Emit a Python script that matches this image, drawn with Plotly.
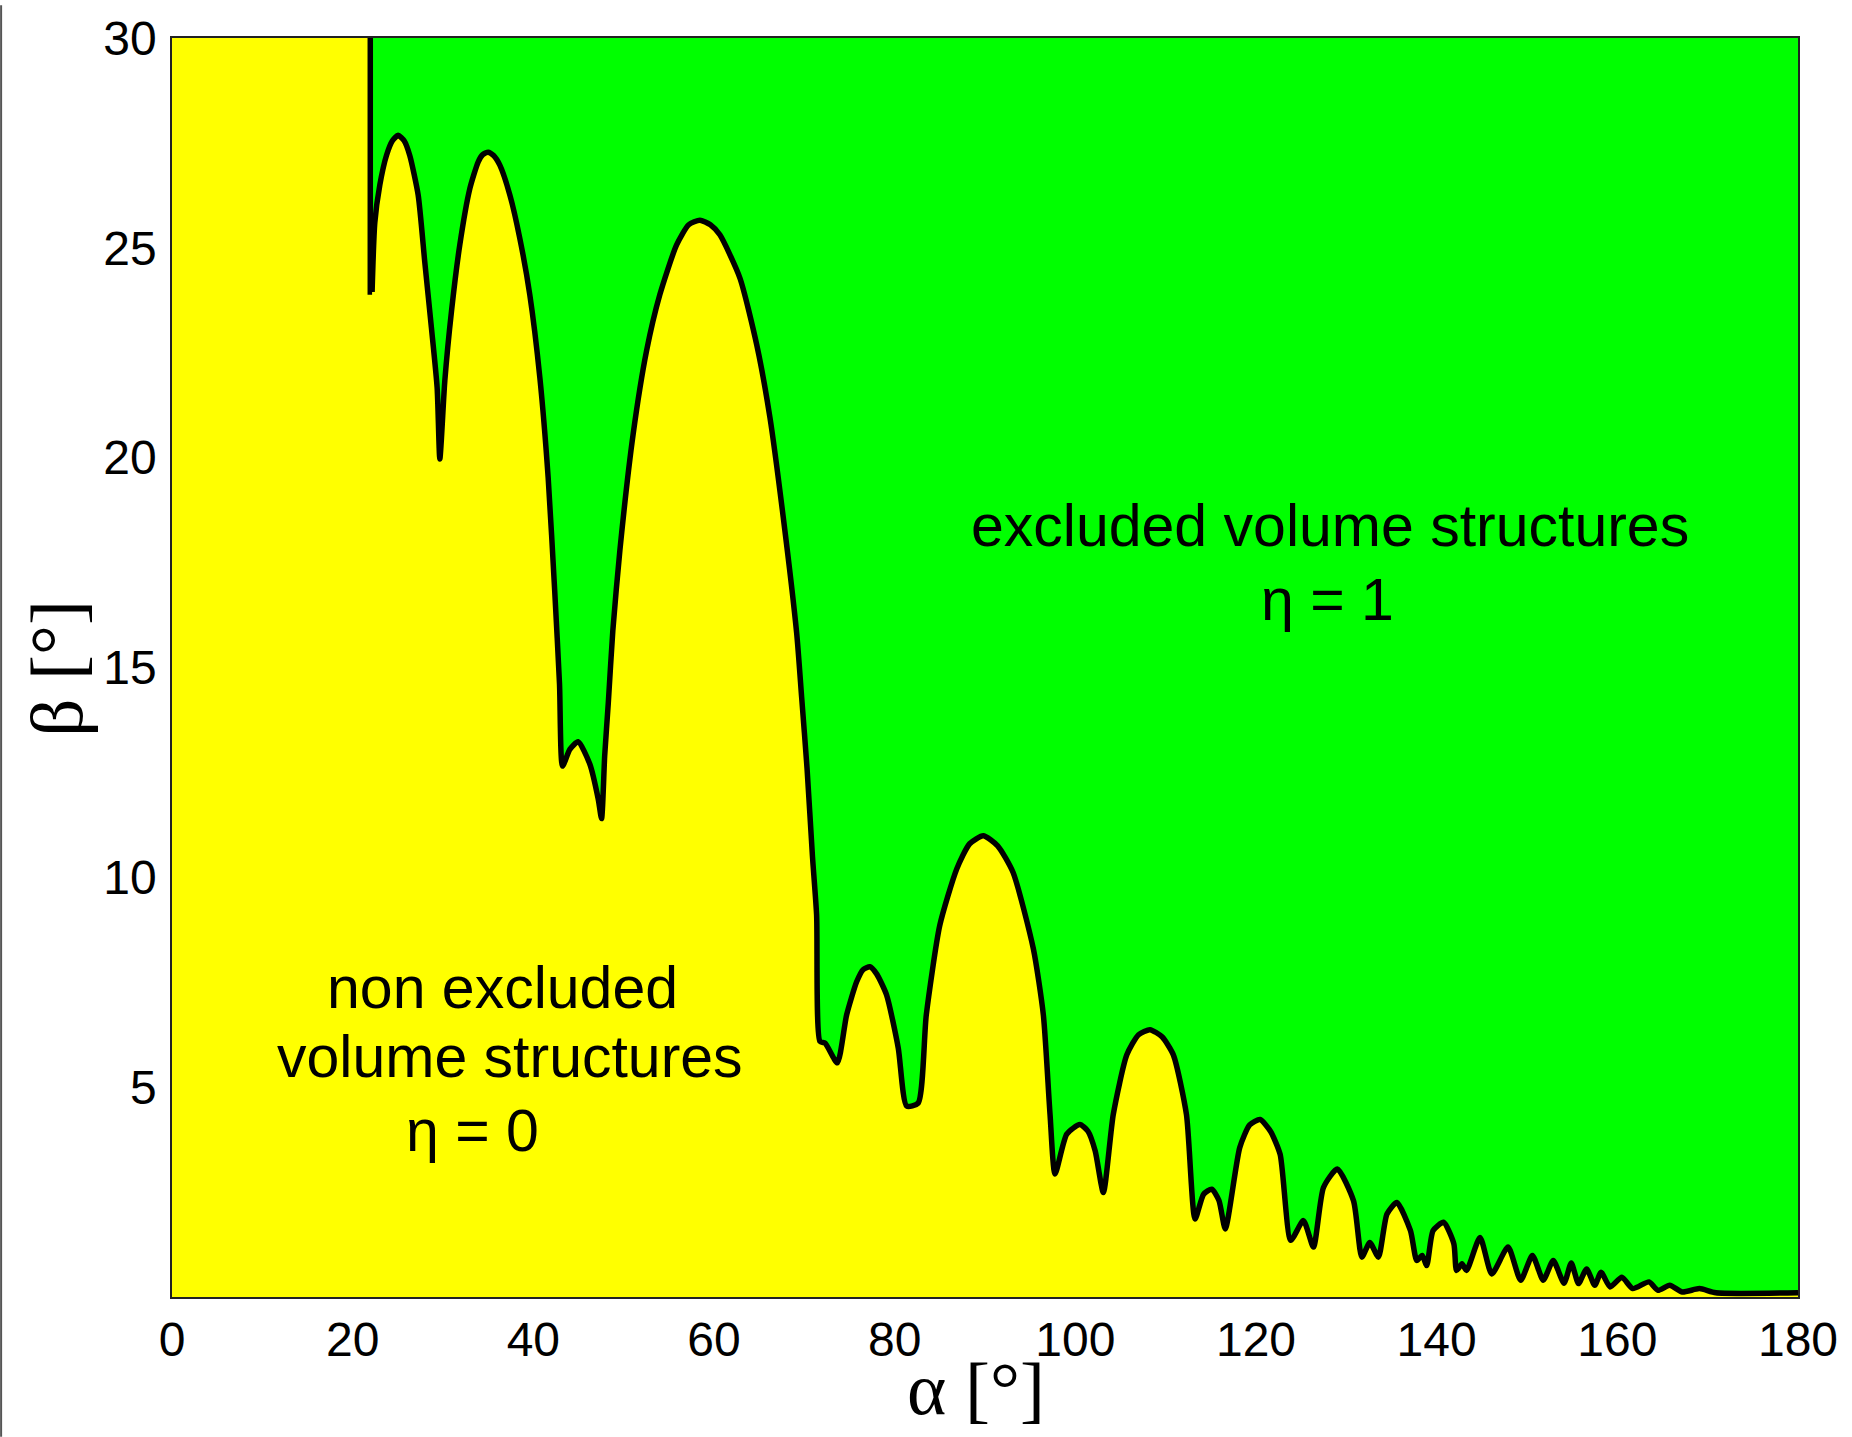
import plotly.graph_objects as go

# Phase boundary beta(alpha) separating the two structure regimes (degrees)
alpha_boundary = [
    21.95, 21.95, 22.15, 22.45, 23.0, 23.74, 24.4, 25.03, 25.7, 26.32,
    27.25, 27.98, 28.72, 29.35, 29.65, 30.2, 30.94, 31.86, 32.97, 33.9,
    34.4, 35.0, 35.6, 36.29, 37.4, 38.5, 39.61, 40.72, 41.64, 42.38,
    42.9, 43.23, 44.04, 44.96, 46.25, 47.18, 47.55, 47.9, 48.3, 48.8,
    49.58, 51.05, 52.53, 54.0, 55.86, 57.2, 58.44, 59.6, 60.65, 62.87,
    64.72, 66.19, 67.66, 69.15, 69.7, 70.3, 70.9, 71.36, 71.73, 72.3,
    73.65, 74.68, 75.79, 76.5, 77.26, 78.0, 79.1, 80.4, 81.33, 82.6,
    83.5, 85.0, 86.87, 88.3, 89.81, 91.4, 93.1, 95.35, 96.46, 97.2,
    97.75, 99.05, 100.5, 101.4, 102.2, 103.1, 104.2, 105.7, 107.0, 108.27,
    109.6, 110.85, 112.3, 113.25, 114.2, 115.1, 115.9, 116.6, 118.2, 119.3,
    120.45, 121.6, 122.67, 123.85, 125.25, 126.36, 127.47, 129.0, 130.8, 131.72,
    132.6, 133.55, 134.5, 135.6, 137.1, 137.8, 138.4, 138.9, 139.6, 140.76,
    141.9, 142.2, 142.8, 143.3, 144.8, 146.1, 147.9, 149.3, 150.6, 151.8,
    152.9, 154.1, 154.9, 155.7, 156.6, 157.5, 158.2, 159.2, 160.5, 161.7,
    163.5, 164.5, 165.8, 167.2, 169.1, 170.9, 180.0,
]
beta_boundary = [
    30.0, 23.95, 23.95, 25.6, 26.49, 27.2, 27.55, 27.68, 27.55, 27.2,
    26.26, 24.67, 23.09, 21.67, 19.97, 21.83, 23.49, 25.07, 26.41, 27.05,
    27.22, 27.28, 27.2, 26.97, 26.26, 25.23, 23.88, 21.91, 19.53, 16.77,
    14.6, 12.65, 13.05, 13.23, 12.7, 11.87, 11.4, 12.9, 14.16, 15.88,
    17.79, 20.56, 22.54, 23.88, 25.07, 25.55, 25.66, 25.55, 25.31, 24.28,
    22.7, 20.96, 18.59, 15.82, 14.3, 12.6, 10.5, 9.1, 6.09, 6.05,
    5.58, 6.72, 7.51, 7.8, 7.87, 7.7, 7.2, 5.93, 4.55, 4.62,
    6.72, 8.86, 10.2, 10.8, 10.99, 10.75, 10.12, 8.3, 6.72, 4.35,
    2.93, 3.88, 4.11, 3.95, 3.48, 2.49, 4.35, 5.77, 6.25, 6.37,
    6.2, 5.77, 4.35, 1.86, 2.45, 2.57, 2.3, 1.62, 3.56, 4.1,
    4.23, 3.95, 3.4, 1.35, 1.82, 1.19, 2.61, 3.05, 2.29, 0.95,
    1.3, 0.95, 1.98, 2.25, 1.58, 0.87, 0.99, 0.75, 1.58, 1.78,
    1.27, 0.63, 0.79, 0.63, 1.42, 0.55, 1.19, 0.40, 0.99, 0.40,
    0.87, 0.33, 0.81, 0.32, 0.67, 0.28, 0.59, 0.24, 0.47, 0.2,
    0.36, 0.16, 0.28, 0.12, 0.2, 0.1, 0.1,
]

alpha_range = [0, 180]
beta_range = [0, 30]
alpha_ticks = [0, 20, 40, 60, 80, 100, 120, 140, 160, 180]
beta_ticks = [5, 10, 15, 20, 25, 30]

YELLOW = "#FFFF00"
GREEN = "#00FF00"
SANS = "Liberation Sans, Arial, sans-serif"
SERIF = "Liberation Serif, Times New Roman, serif"

# the vertical edge at the first cusp is straight; the rest is a smooth curve
N_EDGE = 3
edge_a, edge_b = alpha_boundary[:N_EDGE], beta_boundary[:N_EDGE]
curve_a, curve_b = alpha_boundary[N_EDGE - 1:], beta_boundary[N_EDGE - 1:]

# left block overlaps the smooth region by one step so no seam shows
block_a = alpha_boundary[:N_EDGE + 1]
block_b = beta_boundary[:N_EDGE + 1]

fig = go.Figure()

# eta = 0 region, left part: full-height block up to the vertical edge
fig.add_trace(go.Scatter(
    x=[alpha_range[0], alpha_range[0]] + block_a + [block_a[-1]],
    y=[beta_range[0], beta_range[1]] + block_b + [beta_range[0]],
    mode="lines", line=dict(width=0, color=YELLOW),
    fill="toself", fillcolor=YELLOW, hoverinfo="skip", showlegend=False,
))
# eta = 0 region under the smooth boundary
fig.add_trace(go.Scatter(
    x=curve_a, y=curve_b, mode="lines",
    line=dict(width=0, color=YELLOW, shape="spline", smoothing=0.6),
    fill="tozeroy", fillcolor=YELLOW, hoverinfo="skip", showlegend=False,
))

# boundary line
fig.add_trace(go.Scatter(
    x=edge_a, y=edge_b, mode="lines",
    line=dict(width=5.5, color="black"), showlegend=False,
))
fig.add_trace(go.Scatter(
    x=curve_a, y=curve_b, mode="lines",
    line=dict(width=5.5, color="black", shape="spline", smoothing=0.6),
    showlegend=False,
))

region_labels = [
    ("excluded volume structures", 128.2, 18.36),
    ("\u03b7 = 1", 127.9, 16.62),
    ("non excluded", 36.6, 7.37),
    ("volume structures", 37.4, 5.73),
    ("\u03b7 = 0", 33.3, 3.95),
]
for text, ax_, by_ in region_labels:
    fig.add_annotation(
        x=ax_, y=by_, xref="x", yref="y", text=text, showarrow=False,
        xanchor="center", yanchor="middle",
        font=dict(family=SANS, size=59, color="black"),
    )

# axis titles
fig.add_annotation(
    x=0.4945, y=-0.0725, xref="paper", yref="paper", text="\u03b1 [\u00b0]",
    showarrow=False, xanchor="center", yanchor="middle",
    font=dict(family=SERIF, size=75, color="black"),
)
fig.add_annotation(
    x=-0.0707, y=0.499, xref="paper", yref="paper", text="\u03b2 [\u00b0]",
    showarrow=False, xanchor="center", yanchor="middle", textangle=-90,
    font=dict(family=SERIF, size=75, color="black"),
)

# thin frame line at the left edge of the figure
fig.add_shape(
    type="line", xref="paper", yref="paper",
    x0=-0.1051, x1=-0.1051, y0=-0.111, y1=1.026,
    line=dict(color="#555555", width=2),
)

fig.update_xaxes(
    range=alpha_range, tickvals=alpha_ticks, ticks="", showgrid=False,
    zeroline=False, showline=True, mirror=True, linecolor="#222222",
    linewidth=1.5, tickfont=dict(family=SANS, size=48, color="black"),
    ticklabelstandoff=0,
)
fig.update_yaxes(
    range=beta_range, tickvals=beta_ticks, ticks="", showgrid=False,
    zeroline=False, showline=True, mirror=True, linecolor="#222222",
    linewidth=1.5, tickfont=dict(family=SANS, size=48, color="black"),
    ticklabelstandoff=4,
)

fig.update_layout(
    width=1852, height=1437, autosize=False,
    margin=dict(l=172, r=54, t=32, b=140, pad=0),
    paper_bgcolor="white", plot_bgcolor=GREEN,
    showlegend=False,
)

fig.write_html("out.html")
